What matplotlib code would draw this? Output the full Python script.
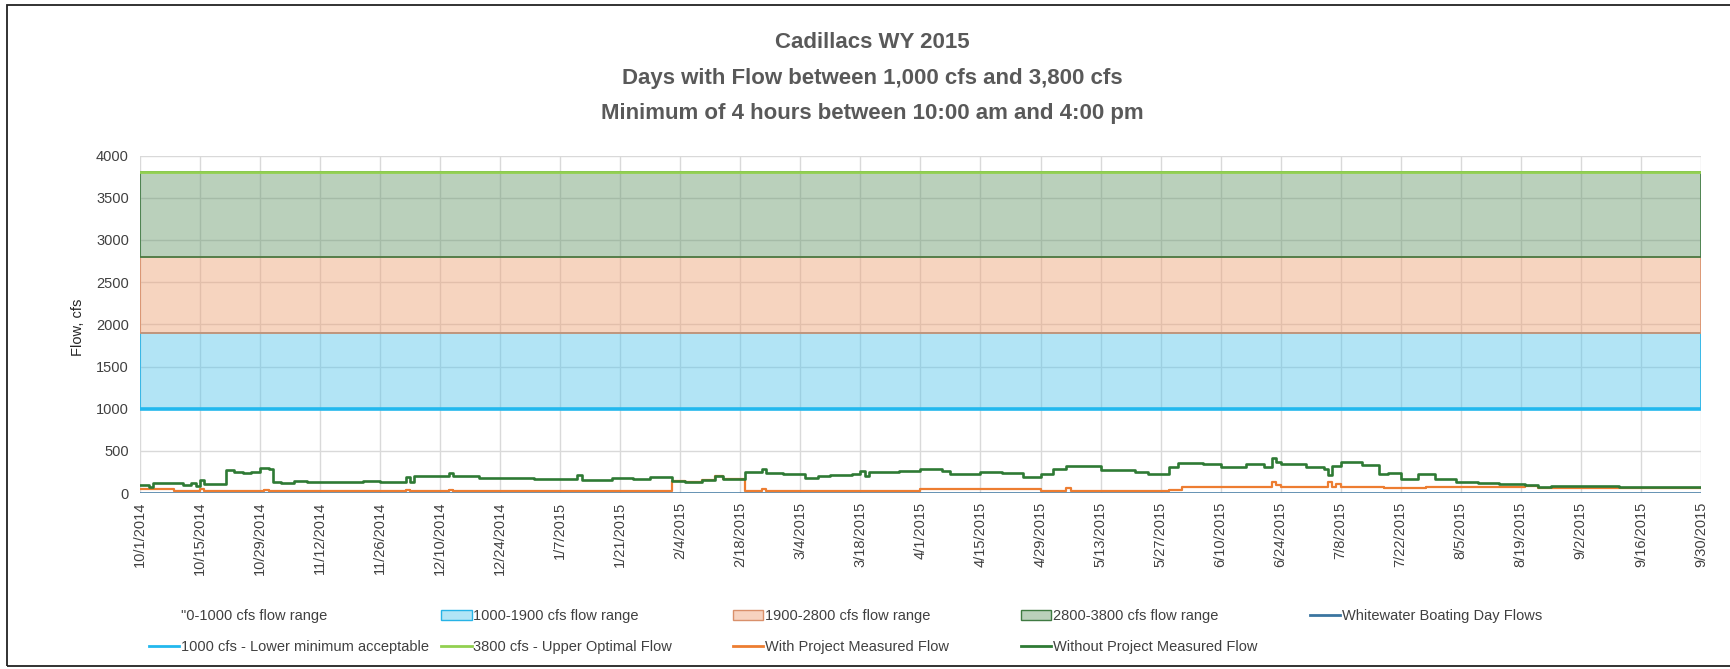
"""Cadillacs WY 2015 flow chart."""
import datetime as dt

import matplotlib
matplotlib.use("Agg")
import matplotlib.pyplot as plt
from matplotlib.lines import Line2D
from matplotlib.patches import Patch, Rectangle

# ---- data -------------------------------------------------------------
start = dt.date(2014, 10, 1)
end = dt.date(2015, 9, 30)

# flow bands (cfs)
band_lo = [1000, 1900, 2800]
band_hi = [1900, 2800, 3800]
band_labels = ["1000-1900 cfs flow range", "1900-2800 cfs flow range", "2800-3800 cfs flow range"]
lower_min = 1000
upper_opt = 3800

# without project measured flow: day offset from 10/1/2014 -> cfs (step changes)
green_day = [0, 2, 3, 6, 8, 10, 12, 13, 14, 15, 17, 20, 22, 24, 26, 28, 30, 31, 33,
             36, 39, 45, 52, 56, 62, 63, 64, 69, 72, 73, 75, 79, 86, 92, 99, 102, 103,
             110, 115, 119, 124, 127, 131, 134, 136, 141, 144, 145, 146, 150, 155, 158,
             161, 166, 168, 169, 170, 173, 177, 182, 187, 189, 196, 201, 206, 210, 213,
             216, 221, 224, 229, 232, 235, 240, 242, 248, 252, 258, 262, 264, 265, 266,
             272, 276, 277, 278, 280, 285, 289, 291, 294, 298, 302, 307, 312, 317, 323,
             326, 329, 345, 364]
green_cfs = [100, 70, 125, 118, 120, 100, 115, 85, 150, 110, 105, 270, 245, 240, 250,
             300, 280, 135, 125, 145, 135, 130, 140, 128, 195, 135, 200, 205, 235, 200,
             205, 180, 175, 165, 168, 215, 160, 175, 170, 185, 145, 130, 160, 205, 165,
             245, 255, 290, 240, 225, 180, 200, 210, 230, 265, 200, 255, 245, 265, 285,
             265, 230, 250, 235, 190, 230, 280, 325, 315, 270, 270, 245, 230, 310, 355,
             345, 305, 345, 310, 420, 370, 345, 310, 285, 210, 320, 365, 330, 230, 240,
             170, 230, 170, 135, 115, 105, 95, 70, 78, 75, 72]

# with project measured flow
orange_day = [0, 8, 14, 15, 18, 19, 29, 30, 62, 63, 72, 73, 124, 127, 131, 134, 136,
              141, 145, 146, 175, 178, 182, 210, 216, 217, 240, 243, 264, 265, 266, 270,
              277, 278, 279, 280, 290, 300, 320, 323, 326, 364]
orange_cfs = [50, 20, 50, 20, 30, 20, 35, 20, 35, 20, 35, 20, 145, 130, 160, 205, 165,
              22, 50, 22, 28, 22, 45, 22, 60, 22, 40, 68, 130, 100, 70, 75, 130, 70,
              110, 75, 65, 72, 72, 88, 65, 62]

# whitewater boating day flows
boat_day = [0, 364]
boat_cfs = [0, 0]

tick_step_days = 14

# ---- figure -------------------------------------------------------------
plt.rcParams["font.family"] = ["Liberation Sans", "DejaVu Sans"]

fig = plt.figure(figsize=(17.3, 6.69), dpi=100)
ax = fig.add_axes([0.0809, 0.263, 0.9023, 0.5044])


def to_dates(days):
    return [start + dt.timedelta(days=d) for d in days]


span = [start, end]
fills = ["#54c5eb", "#eda073", "#66976a"]
edges = ["#27b3e6", "#d9906b", "#3f7a42"]
for lo, hi, fc, ec in zip(band_lo, band_hi, fills, edges):
    ax.fill_between(span, lo, hi, facecolor=fc, alpha=0.45, linewidth=0, zorder=2)
    ax.fill_between(span, lo, hi, facecolor="none", edgecolor=ec, linewidth=1.2, zorder=2.1)

ax.plot(span, [lower_min] * 2, color="#22b8ee", lw=2.6, zorder=3)
ax.plot(span, [upper_opt] * 2, color="#92d050", lw=2, zorder=3)
ax.plot(to_dates(boat_day), boat_cfs, color="#3b75a0", lw=1.8, zorder=3)
ax.plot(to_dates(orange_day), orange_cfs, color="#ed7d31", lw=1.6, drawstyle="steps-post", zorder=4)
ax.plot(to_dates(green_day), green_cfs, color="#2e7a34", lw=1.9, drawstyle="steps-post", zorder=5)

ticks = [start + dt.timedelta(days=d) for d in range(0, 365, tick_step_days)]
ax.set_xticks(ticks)
ax.set_xticklabels([f"{d.month}/{d.day}/{d.year}" for d in ticks], rotation=90, fontsize=10.5, color="#404040")
ax.set_xlim(start, end)
ax.set_ylim(0, 4000)
ax.set_yticks(range(0, 4001, 500))
ax.tick_params(axis="y", labelsize=10.5, labelcolor="#404040", length=0, pad=8)
ax.tick_params(axis="x", length=0, pad=6)
ax.grid(True, color="#d9d9d9", lw=1)
ax.set_axisbelow(True)
for s in ax.spines.values():
    s.set_visible(False)

fig.text(0.045, 0.51, "Flow, cfs", rotation=90, ha="center", va="center", fontsize=10.5, color="#262626")

title_lines = ["Cadillacs WY 2015",
               "Days with Flow between 1,000 cfs and 3,800 cfs",
               "Minimum of 4 hours between 10:00 am and 4:00 pm"]
for y, t in zip([0.937, 0.883, 0.830], title_lines):
    fig.text(0.504, y, t, ha="center", va="center", fontsize=16, fontweight="bold", color="#595959")

# legend: five equal-width columns, row-major like the original
columns = [
    [(Patch(facecolor="none", edgecolor="none"), '"0-1000 cfs flow range'),
     (Line2D([], [], color="#22b8ee", lw=2), "1000 cfs - Lower minimum acceptable")],
    [(Patch(facecolor="#b2e5f6", edgecolor="#27b3e6"), band_labels[0]),
     (Line2D([], [], color="#92d050", lw=2), "3800 cfs - Upper Optimal Flow")],
    [(Patch(facecolor="#f7d3c0", edgecolor="#d9906b"), band_labels[1]),
     (Line2D([], [], color="#ed7d31", lw=2), "With Project Measured Flow")],
    [(Patch(facecolor="#bad0bb", edgecolor="#3f7a42"), band_labels[2]),
     (Line2D([], [], color="#2e7a34", lw=2), "Without Project Measured Flow")],
    [(Line2D([], [], color="#3b75a0", lw=2), "Whitewater Boating Day Flows")],
]
col_x = [0.086, 0.255, 0.4235, 0.590, 0.757]
for x, col in zip(col_x, columns):
    hs, ls = zip(*col)
    y = 0.056 if len(col) == 2 else 0.079
    leg = fig.legend(hs, ls, loc="center left", bbox_to_anchor=(x, y), frameon=False,
                     fontsize=10.5, handlelength=2.1, handletextpad=0.1, borderpad=0,
                     borderaxespad=0, labelspacing=1.16)
    for t in leg.get_texts():
        t.set_color("#404040")

fig.patches.append(Rectangle((0.004, 0.004), 1.2, 0.988, transform=fig.transFigure,
                             fill=False, edgecolor="#222222", lw=1.3))

fig.savefig("out.png", dpi=100)
